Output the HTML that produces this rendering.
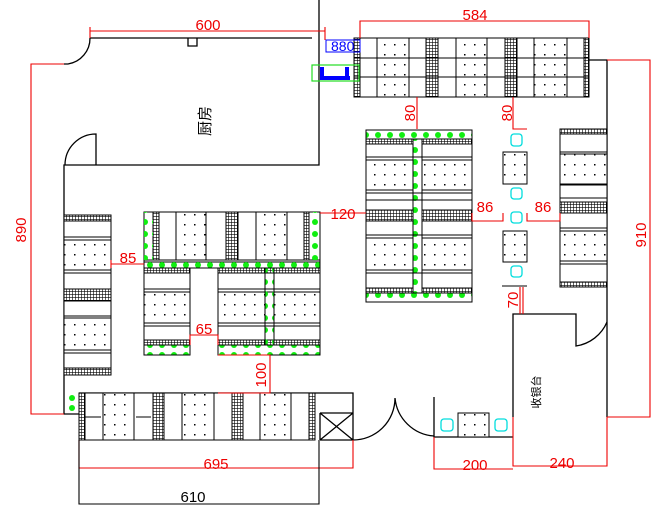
<!DOCTYPE html>
<html><head><meta charset="utf-8"><style>html,body{margin:0;padding:0;background:#fff}svg{display:block}</style></head><body>
<svg width="666" height="513" viewBox="0 0 666 513" xmlns="http://www.w3.org/2000/svg" font-family="Liberation Sans, sans-serif">
<defs>
<pattern id="h" width="3" height="3" patternUnits="userSpaceOnUse"><rect width="3" height="3" fill="#fff"/><path d="M0 0H3M0 0V3" stroke="#000" stroke-width="1.2"/></pattern>
<pattern id="d" width="10" height="10" patternUnits="userSpaceOnUse"><rect width="10" height="10" fill="#fff"/><rect x="4" y="4" width="1.5" height="1.5" fill="#000"/></pattern>
<pattern id="g" width="12" height="10" patternUnits="userSpaceOnUse"><circle cx="6" cy="5" r="3" fill="#1e1"/></pattern>
<pattern id="gv" width="10" height="12" patternUnits="userSpaceOnUse"><circle cx="5" cy="6" r="3" fill="#1e1"/></pattern>
</defs>
<g fill="none" stroke="#000" stroke-width="1.3">
<path d="M90 38H312M188 38V46H197V38"/>
<path d="M319 0V165H64V414H79"/>
<path d="M90 38A26 26 0 0 1 68 64H64"/>
<path d="M96 165V134A31 31 0 0 0 65 165"/>
<path d="M589 60H607V417"/>
<path d="M513 417V314H576V346A40 40 0 0 0 607 322"/>
<path d="M79 393H353V440M320 413H353M320 440H353M320 413V440M320 413L353 440M353 413L320 440"/>
<path d="M353 440A42 42 0 0 0 395 398M395 398A42 42 0 0 0 434 436"/>
<path d="M434 397V437H513"/>
</g>
<g stroke="#000" stroke-width="1">
<rect x="354" y="38" width="235" height="59" fill="#fff"/>
<rect x="354" y="38" width="6" height="59" fill="url(#h)"/>
<rect x="377" y="38" width="32" height="59" fill="url(#d)"/>
<rect x="426" y="38" width="12" height="59" fill="url(#h)"/>
<rect x="456" y="38" width="31" height="59" fill="url(#d)"/>
<rect x="505" y="38" width="12" height="59" fill="url(#h)"/>
<rect x="534" y="38" width="33" height="59" fill="url(#d)"/>
<rect x="584" y="38" width="5" height="59" fill="url(#h)"/>
<path d="M354 58H589M354 77H589" fill="none"/>
</g>
<rect x="312" y="65" width="47" height="16" fill="none" stroke="#2d2" stroke-width="1.2"/>
<rect x="320" y="67" width="4" height="10" fill="#00f"/><rect x="320" y="76" width="30" height="4" fill="#00f"/><rect x="345" y="67" width="4" height="10" fill="#00f"/>
<rect x="326" y="40" width="34" height="12" fill="none" stroke="#00f" stroke-width="1"/>
<text x="331" y="51" fill="#00f" font-size="14">880</text>
<g stroke="#000" stroke-width="1">
<rect x="144" y="212" width="176" height="50" fill="#fff"/>
<rect x="153" y="212" width="6" height="48" fill="url(#h)"/>
<rect x="176" y="212" width="30" height="48" fill="url(#d)"/>
<rect x="226" y="212" width="12" height="48" fill="url(#h)"/>
<rect x="256" y="212" width="31" height="48" fill="url(#d)"/>
<rect x="304" y="212" width="5" height="48" fill="url(#h)"/>
<rect x="144" y="260" width="176" height="8" fill="url(#g)"/>
<rect x="144" y="212" width="9" height="48" fill="url(#gv)" stroke="none"/>
<rect x="311" y="212" width="9" height="48" fill="url(#gv)" stroke="none"/>
<rect x="144" y="268" width="46" height="87" fill="#fff"/>
<rect x="218" y="268" width="102" height="87" fill="#fff"/>
<rect x="144" y="268" width="46" height="5" fill="url(#h)"/>
<rect x="218" y="268" width="102" height="5" fill="url(#h)"/>
<rect x="144" y="340" width="46" height="5" fill="url(#h)"/>
<rect x="218" y="340" width="102" height="5" fill="url(#h)"/>
<rect x="144" y="292" width="46" height="31" fill="url(#d)"/>
<rect x="218" y="292" width="102" height="31" fill="url(#d)"/>
<rect x="144" y="345" width="46" height="10" fill="url(#g)"/>
<rect x="218" y="345" width="102" height="10" fill="url(#g)"/>
<rect x="265" y="268" width="9" height="77" fill="url(#gv)"/>
<path d="M144 289H190M218 289H320M144 326H190M218 326H320" fill="none"/>
</g>
<g stroke="#000" stroke-width="1">
<rect x="64" y="215" width="47" height="160" fill="#fff"/>
<rect x="64" y="215" width="47" height="6" fill="url(#h)"/>
<rect x="64" y="240" width="47" height="30" fill="url(#d)"/>
<rect x="64" y="289" width="47" height="12" fill="url(#h)"/>
<rect x="64" y="318" width="47" height="32" fill="url(#d)"/>
<rect x="64" y="368" width="47" height="7" fill="url(#h)"/>
<path d="M64 237H111M64 273H111M64 316H111M64 353H111" fill="none"/>
</g>
<g stroke="#000" stroke-width="1">
<rect x="366" y="130" width="106" height="172" fill="#fff"/>
<rect x="366" y="130" width="106" height="9" fill="url(#g)"/>
<rect x="366" y="293" width="106" height="9" fill="url(#g)"/>
<rect x="413" y="139" width="9" height="154" fill="url(#gv)"/>
<rect x="366" y="139" width="47" height="5" fill="url(#h)"/><rect x="422" y="139" width="50" height="5" fill="url(#h)"/>
<rect x="366" y="160" width="47" height="30" fill="url(#d)"/><rect x="422" y="160" width="50" height="30" fill="url(#d)"/>
<rect x="366" y="210" width="47" height="11" fill="url(#h)"/><rect x="422" y="210" width="50" height="11" fill="url(#h)"/>
<rect x="366" y="238" width="47" height="32" fill="url(#d)"/><rect x="422" y="238" width="50" height="32" fill="url(#d)"/>
<rect x="366" y="288" width="47" height="5" fill="url(#h)"/><rect x="422" y="288" width="50" height="5" fill="url(#h)"/>
<path d="M366 157H472M366 193H472M366 200H472M366 235H472M366 273H472" fill="none"/>
</g>
<g stroke="#000" stroke-width="1">
<rect x="503" y="152" width="24" height="32" fill="url(#d)"/>
<rect x="503" y="231" width="24" height="31" fill="url(#d)"/>
<path d="M502 286H527" fill="none"/>
</g>
<g fill="none" stroke="#0dd" stroke-width="1.3">
<rect x="511" y="134" width="11" height="12" rx="3"/><rect x="511" y="188" width="11" height="11" rx="3"/>
<rect x="511" y="212" width="11" height="11" rx="3"/><rect x="511" y="266" width="11" height="11" rx="3"/>
<rect x="441" y="419" width="12" height="12" rx="3"/><rect x="495" y="419" width="12" height="12" rx="3"/>
</g>
<rect x="458" y="413" width="31" height="24" fill="url(#d)" stroke="#000"/>
<g stroke="#000" stroke-width="1">
<rect x="560" y="129" width="47" height="158" fill="#fff"/>
<rect x="560" y="129" width="47" height="5" fill="url(#h)"/>
<rect x="560" y="154" width="47" height="30" fill="url(#d)"/>
<rect x="560" y="202" width="47" height="11" fill="url(#h)"/>
<rect x="560" y="231" width="47" height="30" fill="url(#d)"/>
<rect x="560" y="282" width="47" height="5" fill="url(#h)"/>
<path d="M560 152H607M560 185H607M560 198H607M560 228H607M560 264H607" fill="none"/>
</g>
<g stroke="#000" stroke-width="1">
<rect x="79" y="393" width="233" height="47" fill="#fff"/>
<rect x="79" y="393" width="6" height="47" fill="url(#h)"/>
<rect x="103" y="393" width="31" height="47" fill="url(#d)"/>
<rect x="153" y="393" width="11" height="47" fill="url(#h)"/>
<rect x="182" y="393" width="32" height="47" fill="url(#d)"/>
<rect x="232" y="393" width="11" height="47" fill="url(#h)"/>
<rect x="260" y="393" width="31" height="47" fill="url(#d)"/>
<rect x="309" y="393" width="6" height="47" fill="url(#h)"/>
<path d="M85 417H101M136 417H151" fill="none"/>
</g>
<circle cx="72" cy="398" r="3" fill="#1e1"/><circle cx="72" cy="408" r="3" fill="#1e1"/>
<g fill="none" stroke="#e00" stroke-width="1.1">
<path d="M90 31H325M90 27V38M325 27V40"/>
<path d="M64 64H31V414H64"/>
<path d="M360 38V21H589V38"/>
<path d="M607 60H650V417H607"/>
<path d="M111 264H144M111 260V268"/>
<path d="M320 213H366"/>
<path d="M190 345V335H218V345"/>
<path d="M218 355H270V393H218M270 355V393"/>
<path d="M417 97V129M513 97V129H527"/>
<path d="M472 213V221H503V213M527 213V221H560V213"/>
<path d="M520 287V314M523 287V314"/>
<path d="M434 437V469H513M513 417V466H607V417"/>
<path d="M79 440V468H353V440"/>
</g>
<path d="M79 440V504H319V440" fill="none" stroke="#000" stroke-width="1.1"/>
<g fill="#e00" font-size="15" text-anchor="middle">
<text x="208" y="30">600</text>
<text x="475" y="20">584</text>
<text x="128" y="263">85</text>
<text x="343" y="219">120</text>
<text x="204" y="334">65</text>
<text x="485" y="212">86</text>
<text x="543" y="212">86</text>
<text x="475" y="470">200</text>
<text x="562" y="468">240</text>
<text x="216" y="469">695</text>
<text transform="translate(26,230) rotate(-90)">890</text>
<text transform="translate(646,235) rotate(-90)">910</text>
<text transform="translate(266,375) rotate(-90)">100</text>
<text transform="translate(415,113) rotate(-90)">80</text>
<text transform="translate(512,113) rotate(-90)">80</text>
<text transform="translate(518,300) rotate(-90)">70</text>
</g>
<text x="193" y="502" font-size="15" text-anchor="middle" fill="#000">610</text>
<text x="205" y="126" font-size="15" text-anchor="middle" fill="#000" font-family="Liberation Sans, Noto Sans CJK SC, sans-serif" transform="rotate(-90 205 121)">厨房</text>
<text x="536" y="396" font-size="11" text-anchor="middle" fill="#000" font-family="Liberation Sans, Noto Sans CJK SC, sans-serif" transform="rotate(-90 536 392)">收银台</text>
</svg>
</body></html>
